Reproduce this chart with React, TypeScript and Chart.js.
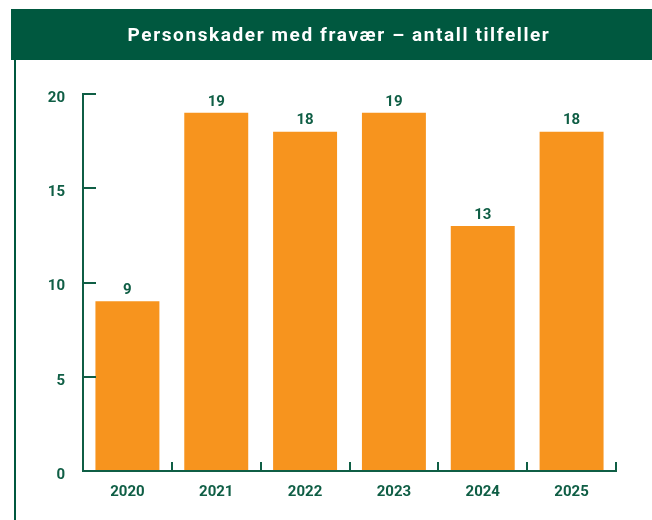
import React, { useEffect, useRef } from "react";
import { Chart, registerables } from "chart.js";

Chart.register(...registerables);

const title = "Personskader med fravær – antall tilfeller";
const years = ["2020", "2021", "2022", "2023", "2024", "2025"];
const cases = [9, 19, 18, 19, 13, 18];
const yTicks = [0, 5, 10, 15, 20];

const GREEN = "#00583f";
const TEXT_GREEN = "#0f5e45";
const ORANGE = "#f7941e";
const FONT = "Roboto, 'DejaVu Sans', sans-serif";

const framePlugin = {
  id: "frame",
  beforeDraw(chart: any) {
    const ctx = chart.ctx;
    ctx.save();
    ctx.fillStyle = "#ffffff";
    ctx.fillRect(0, 0, chart.width, chart.height);
    // title bar
    ctx.fillStyle = GREEN;
    ctx.fillRect(11, 9, chart.width - 11, 51);
    ctx.fillStyle = "#ffffff";
    ctx.font = `bold 19px ${FONT}`;
    (ctx as any).letterSpacing = "1.6px";
    ctx.textAlign = "center";
    ctx.textBaseline = "middle";
    ctx.fillText(title, 339, 36);
    (ctx as any).letterSpacing = "0px";
    // left border line
    ctx.fillStyle = GREEN;
    ctx.fillRect(14, 60, 2, chart.height - 60);
    ctx.restore();
  },
  afterDatasetsDraw(chart: any) {
    const ctx = chart.ctx;
    const x = chart.scales.x;
    const y = chart.scales.y;
    const left = chart.chartArea.left;
    const right = chart.chartArea.right;
    const top = y.getPixelForValue(20);
    const bottom = y.getPixelForValue(0);
    ctx.save();
    ctx.strokeStyle = TEXT_GREEN;
    ctx.lineWidth = 2;
    ctx.beginPath();
    // y axis line
    ctx.moveTo(left, top);
    ctx.lineTo(left, bottom + 1);
    // y ticks pointing right
    yTicks.forEach((v) => {
      const py = Math.round(y.getPixelForValue(v));
      if (v === 0) return;
      ctx.moveTo(left - 1, py);
      ctx.lineTo(left + 13, py);
    });
    // x axis line
    ctx.moveTo(left - 1, bottom);
    ctx.lineTo(right + 1, bottom);
    // x ticks at category boundaries, pointing up
    const half = (x.getPixelForValue(1) - x.getPixelForValue(0)) / 2;
    for (let i = 0; i < years.length; i++) {
      const px = Math.round(x.getPixelForValue(i) + half);
      ctx.moveTo(px, bottom);
      ctx.lineTo(px, bottom - 9);
    }
    ctx.stroke();
    // value labels
    const meta = chart.getDatasetMeta(0);
    ctx.fillStyle = TEXT_GREEN;
    ctx.font = `bold 15px ${FONT}`;
    ctx.textAlign = "center";
    ctx.textBaseline = "middle";
    meta.data.forEach((bar: any, i: number) => {
      ctx.fillText(String(cases[i]), bar.x, bar.y - 11);
    });
    ctx.restore();
  },
};

export default function App() {
  const ref = useRef<HTMLCanvasElement | null>(null);
  useEffect(() => {
    if (!ref.current) return;
    const chart = new Chart(ref.current, {
      type: "bar",
      data: {
        labels: years,
        datasets: [
          {
            data: cases,
            backgroundColor: ORANGE,
            borderWidth: 0,
            categoryPercentage: 1,
            barPercentage: 0.72,
          },
        ],
      },
      options: {
        animation: false,
        responsive: false,
        maintainAspectRatio: false,
        layout: { padding: { left: 0, right: 36, top: 94, bottom: 0 } },
        plugins: { legend: { display: false }, tooltip: { enabled: false }, title: { display: false } },
        scales: {
          x: {
            grid: { display: false },
            border: { display: false },
            ticks: {
              color: TEXT_GREEN,
              font: { family: FONT, size: 15, weight: "bold" },
              padding: 4,
            },
            afterFit: (s: any) => {
              s.height = 49;
            },
          },
          y: {
            min: 0,
            max: 20,
            afterBuildTicks: (s: any) => {
              s.ticks = yTicks.map((v) => ({ value: v }));
            },
            grid: { display: false },
            border: { display: false },
            ticks: {
              color: TEXT_GREEN,
              font: { family: FONT, size: 15, weight: "bold" },
              padding: 10,
              labelOffset: 4,
            },
            afterFit: (s: any) => {
              s.width = 83;
            },
          },
        },
      },
      plugins: [framePlugin],
    });
    return () => chart.destroy();
  }, []);
  return (
    <div style={{ position: "absolute", left: 0, top: 0, width: 652, height: 520 }}>
      <canvas ref={ref} width={652} height={520} style={{ width: 652, height: 520, display: "block" }} />
    </div>
  );
}
